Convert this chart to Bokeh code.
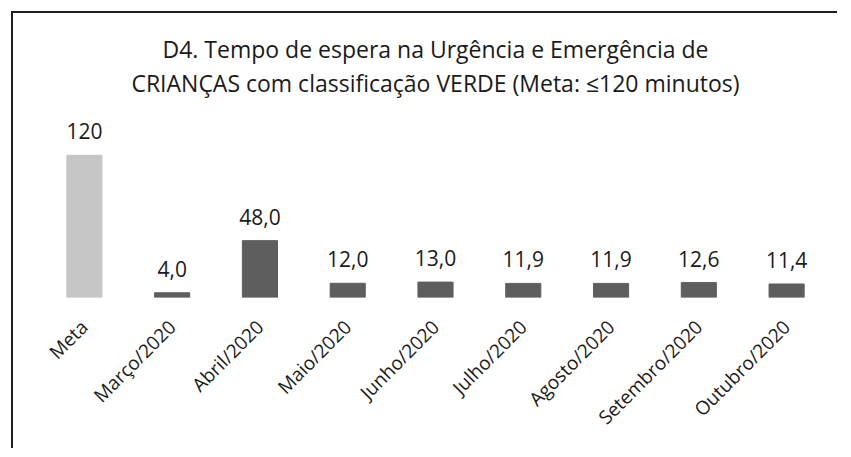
from bokeh.plotting import figure
from bokeh.models import ColumnDataSource, LabelSet, Title, FactorRange
from bokeh.core.properties import value
from bokeh.embed import file_html
from bokeh.resources import INLINE
from math import pi

categories = ["Meta", "Março/2020", "Abril/2020", "Maio/2020", "Junho/2020",
              "Julho/2020", "Agosto/2020", "Setembro/2020", "Outubro/2020"]
values = [120, 4.0, 48.0, 12.0, 13.0, 11.9, 11.9, 12.6, 11.4]
value_labels = ["120", "4,0", "48,0", "12,0", "13,0", "11,9", "11,9", "12,6", "11,4"]
colors = ["#c6c6c6"] + ["#5e5e5e"] * 8

FONT = "Open Sans"

src = ColumnDataSource(dict(cat=categories, val=values, lab=value_labels, col=colors))

p = figure(x_range=FactorRange(*categories), y_range=(0, 168),
           width=826, height=437, output_backend="svg", toolbar_location=None,
           min_border_left=27, min_border_right=9, min_border_top=0, min_border_bottom=170)

p.styles = {"border-left": "2px solid #1e1e1e", "border-top": "2px solid #1e1e1e",
            "margin-left": "11px", "margin-top": "11px", "padding-top": "17px"}

p.vbar(x="cat", top="val", width=0.4, color="col", source=src)

labels = LabelSet(x="cat", y="val", text="lab", source=src, y_offset=16,
                  text_align="center", text_baseline="alphabetic",
                  text_font=value(FONT), text_font_size="21px", text_color="#1a1a1a")
p.add_layout(labels)

t2 = Title(text="CRIANÇAS com classificação VERDE (Meta: ≤120 minutos)", align="center",
           text_font=FONT, text_font_size="23px", text_font_style="normal", text_color="#1a1a1a",
           standoff=0, offset=0)
t1 = Title(text="D4. Tempo de espera na Urgência e Emergência de", align="center",
           text_font=FONT, text_font_size="23px", text_font_style="normal", text_color="#1a1a1a",
           standoff=0, offset=0)
p.add_layout(t2, "above")
p.add_layout(t1, "above")

p.yaxis.visible = False
p.xaxis.axis_line_color = None
p.xaxis.major_tick_line_color = None
p.xaxis.minor_tick_line_color = None
p.xaxis.major_label_orientation = pi / 4
p.xaxis.major_label_text_font = FONT
p.xaxis.major_label_text_font_size = "19px"
p.xaxis.major_label_text_color = "#1a1a1a"
p.xaxis.major_label_standoff = 20
p.xgrid.visible = False
p.ygrid.visible = False
p.outline_line_color = None

open("out.html", "w").write(file_html(p, INLINE))
